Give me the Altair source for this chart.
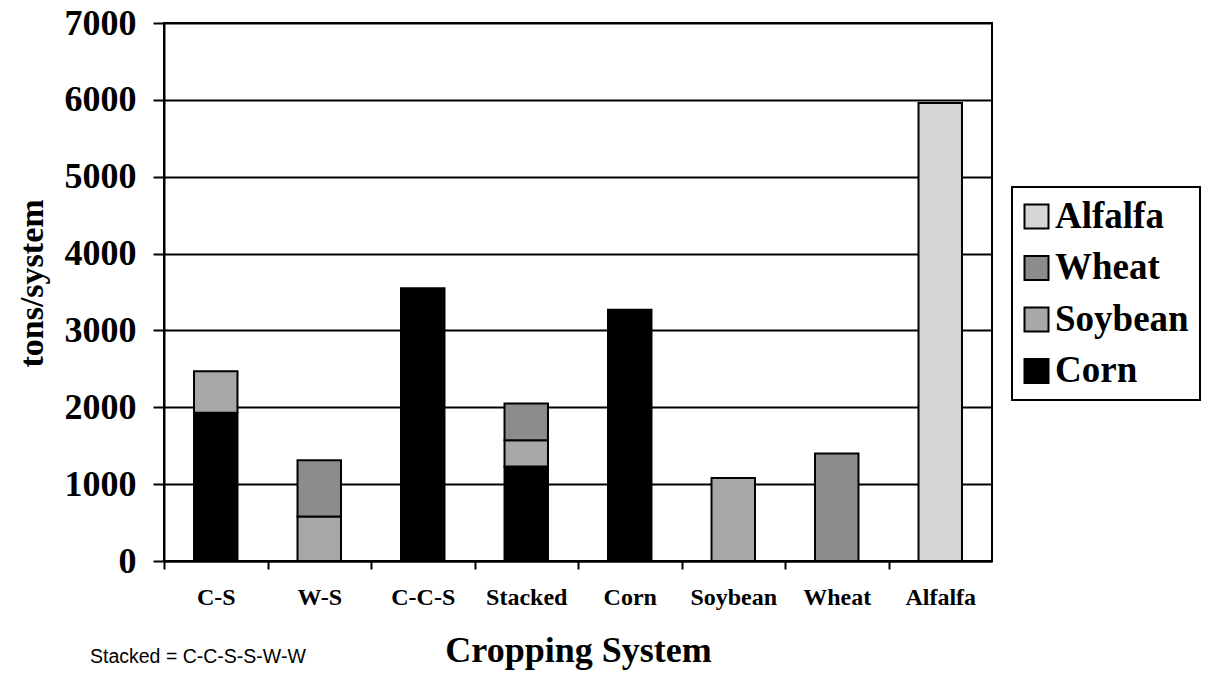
import altair as alt
import pandas as pd

systems = ["C-S", "W-S", "C-C-S", "Stacked", "Corn", "Soybean", "Wheat", "Alfalfa"]
corn = [1930, 0, 3550, 1230, 3270, 0, 0, 0]
soybean = [540, 580, 0, 340, 0, 1080, 0, 0]
wheat = [0, 730, 0, 480, 0, 0, 1400, 0]
alfalfa = [0, 0, 0, 0, 0, 0, 0, 5960]

crops = ["Corn", "Soybean", "Wheat", "Alfalfa"]
series = {"Corn": corn, "Soybean": soybean, "Wheat": wheat, "Alfalfa": alfalfa}

rows = []
for ci, crop in enumerate(crops):
    for s, v in zip(systems, series[crop]):
        if v > 0:
            rows.append({"system": s, "crop": crop, "value": v, "ord": ci})
df = pd.DataFrame(rows)

SERIF = "Liberation Serif"
legend_order = ["Alfalfa", "Wheat", "Soybean", "Corn"]
legend_colors = ["#d6d6d6", "#8c8c8c", "#a8a8a8", "#000000"]

step = 828 / 8

bars = alt.Chart(df).mark_bar(stroke="black", strokeWidth=2).encode(
    x=alt.X("system:N", sort=systems,
            scale=alt.Scale(paddingInner=0.58, paddingOuter=0.29),
            axis=alt.Axis(title="Cropping System", labelAngle=0,
                          labelFont=SERIF, labelFontWeight="bold", labelFontSize=24,
                          labelColor="black", labelPadding=16,
                          tickSize=8, tickWidth=2, tickColor="black",
                          tickOffset=-step / 2, labelOffset=step / 2,
                          domainColor="black", domainWidth=2,
                          titleFont=SERIF, titleFontWeight="bold", titleFontSize=36,
                          titleColor="black", titlePadding=24, grid=False)),
    y=alt.Y("value:Q", stack="zero",
            scale=alt.Scale(domain=[0, 7000], nice=False),
            axis=alt.Axis(title="tons/system", values=list(range(0, 7001, 1000)),
                          format="d",
                          labelFont=SERIF, labelFontWeight="bold", labelFontSize=36,
                          labelColor="black", labelPadding=17,
                          tickSize=11, tickWidth=2, tickColor="black",
                          domainColor="black", domainWidth=2,
                          grid=True, gridColor="black", gridWidth=2,
                          titleFont=SERIF, titleFontWeight="bold", titleFontSize=34,
                          titleColor="black", titleX=-132, titleY=260,
                          titleAlign="center", titleBaseline="middle", titleAngle=-90)),
    color=alt.Color("crop:N", sort=legend_order,
                    scale=alt.Scale(domain=legend_order, range=legend_colors),
                    legend=alt.Legend(title=None, orient="none", legendX=848, legendY=164,
                                      symbolType="square", symbolSize=576,
                                      symbolStrokeColor="black", symbolStrokeWidth=2,
                                      symbolOpacity=1, symbolOffset=-5,
                                      labelFont=SERIF, labelFontWeight="bold", labelFontSize=37,
                                      labelColor="black", labelLimit=300, labelOffset=0,
                                      rowPadding=13.5, padding=11,
                                      strokeColor="black", fillColor="white")),
    order=alt.Order("ord:Q"),
)

note = alt.Chart(pd.DataFrame({"t": ["Stacked = C-C-S-S-W-W"]})).mark_text(
    font="Liberation Sans", fontSize=19.5, align="left", baseline="alphabetic",
    color="black"
).encode(text="t:N", x=alt.value(-74), y=alt.value(640))

chart = alt.layer(bars, note).properties(
    width=828, height=538,
    padding={"left": 164, "top": 23, "right": 218, "bottom": 112},
    autosize=alt.AutoSizeParams(type="none"),
).configure_view(stroke="black", strokeWidth=2).configure_legend(strokeWidth=2)

chart.save("out.html", embed_options={"renderer": "svg", "actions": False})
